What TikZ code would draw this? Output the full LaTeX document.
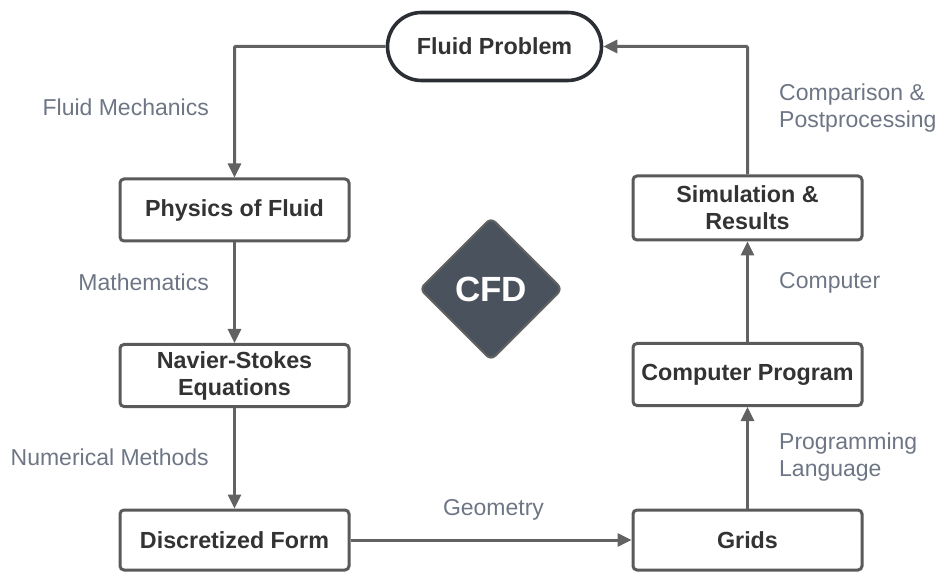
\documentclass[tikz,border=0pt]{standalone}
\usepackage{fontspec}
\setmainfont{Liberation Sans}
\usetikzlibrary{arrows.meta,shapes.geometric}
\definecolor{boxline}{HTML}{5A5A5A}
\definecolor{boxtext}{HTML}{333333}
\definecolor{darkline}{HTML}{2B2E33}
\definecolor{arrowgray}{HTML}{626262}
\definecolor{labelgray}{HTML}{6E7685}
\definecolor{slate}{HTML}{4A525D}
\tikzset{
  stepbox/.style={draw=boxline, line width=3pt, rounded corners=4pt, fill=white,
    minimum width=229pt, minimum height=62pt, align=center, text=boxtext,
    font=\fontsize{23.3}{27}\selectfont\bfseries, inner sep=2pt},
  startbox/.style={draw=darkline, line width=3.6pt, rounded corners=34pt, fill=white,
    minimum width=214pt, minimum height=68pt, text=boxtext,
    font=\fontsize{23.3}{27}\selectfont\bfseries},
  flow/.style={draw=arrowgray, line width=3pt, -{Triangle[length=14pt,width=13pt]}},
  lbl/.style={text=labelgray, font=\fontsize{23}{27}\selectfont, align=left, inner sep=0pt},
}
\begin{document}
\begin{tikzpicture}[x=1pt,y=-1pt]
\useasboundingbox (0,0) rectangle (938,572);

% process steps
\node[startbox] (prob) at (494.5,46.5) {Fluid Problem};
\node[stepbox] (phys) at (234.5,210) {Physics of Fluid};
\node[stepbox] (ns)   at (234.5,375.5) {Navier-Stokes\\Equations};
\node[stepbox, minimum height=60pt] (disc) at (234.5,540) {Discretized Form};
\node[stepbox, minimum height=60pt] (grid) at (747.5,540) {Grids};
\node[stepbox] (prog) at (747.5,374.5) {Computer Program};
\node[stepbox, minimum height=64pt] (sim) at (747.5,208) {Simulation \&\\Results};

% central badge
\node[diamond, draw=arrowgray, line width=2pt, fill=slate, rounded corners=6pt,
      minimum width=143pt, minimum height=143pt, inner sep=0pt,
      text=white, font=\fontsize{35}{40}\selectfont\bfseries] (cfd) at (491,289) {CFD};

% connectors
\coordinate (tl) at (234.5,46.5);
\coordinate (tr) at (747.5,46.5);
\draw[flow, rounded corners=1pt] (prob.west) -- (tl) -- (phys.north);
\draw[flow] (phys.south) -- (ns.north);
\draw[flow] (ns.south) -- (disc.north);
\draw[flow] (disc.east) -- (grid.west);
\draw[flow] (grid.north) -- (prog.south);
\draw[flow] (prog.north) -- (sim.south);
\draw[flow, rounded corners=1pt] (sim.north) -- (tr) -- (prob.east);

% connector labels
\node[lbl, anchor=east] (l1) at (209,107) {Fluid Mechanics};
\node[lbl, anchor=east] (l2) at (209,282) {Mathematics};
\node[lbl, anchor=east] (l3) at (209,457) {Numerical Methods};
\node[lbl] (l4) at (493.5,510) {Geometry};
\node[lbl, anchor=west] (l5) at (779,108.5) {Comparison \&\\Postprocessing};
\node[lbl, anchor=west] (l6) at (779,283) {Computer};
\node[lbl, anchor=west] (l7) at (779,457.5) {Programming\\Language};
\end{tikzpicture}
\end{document}
